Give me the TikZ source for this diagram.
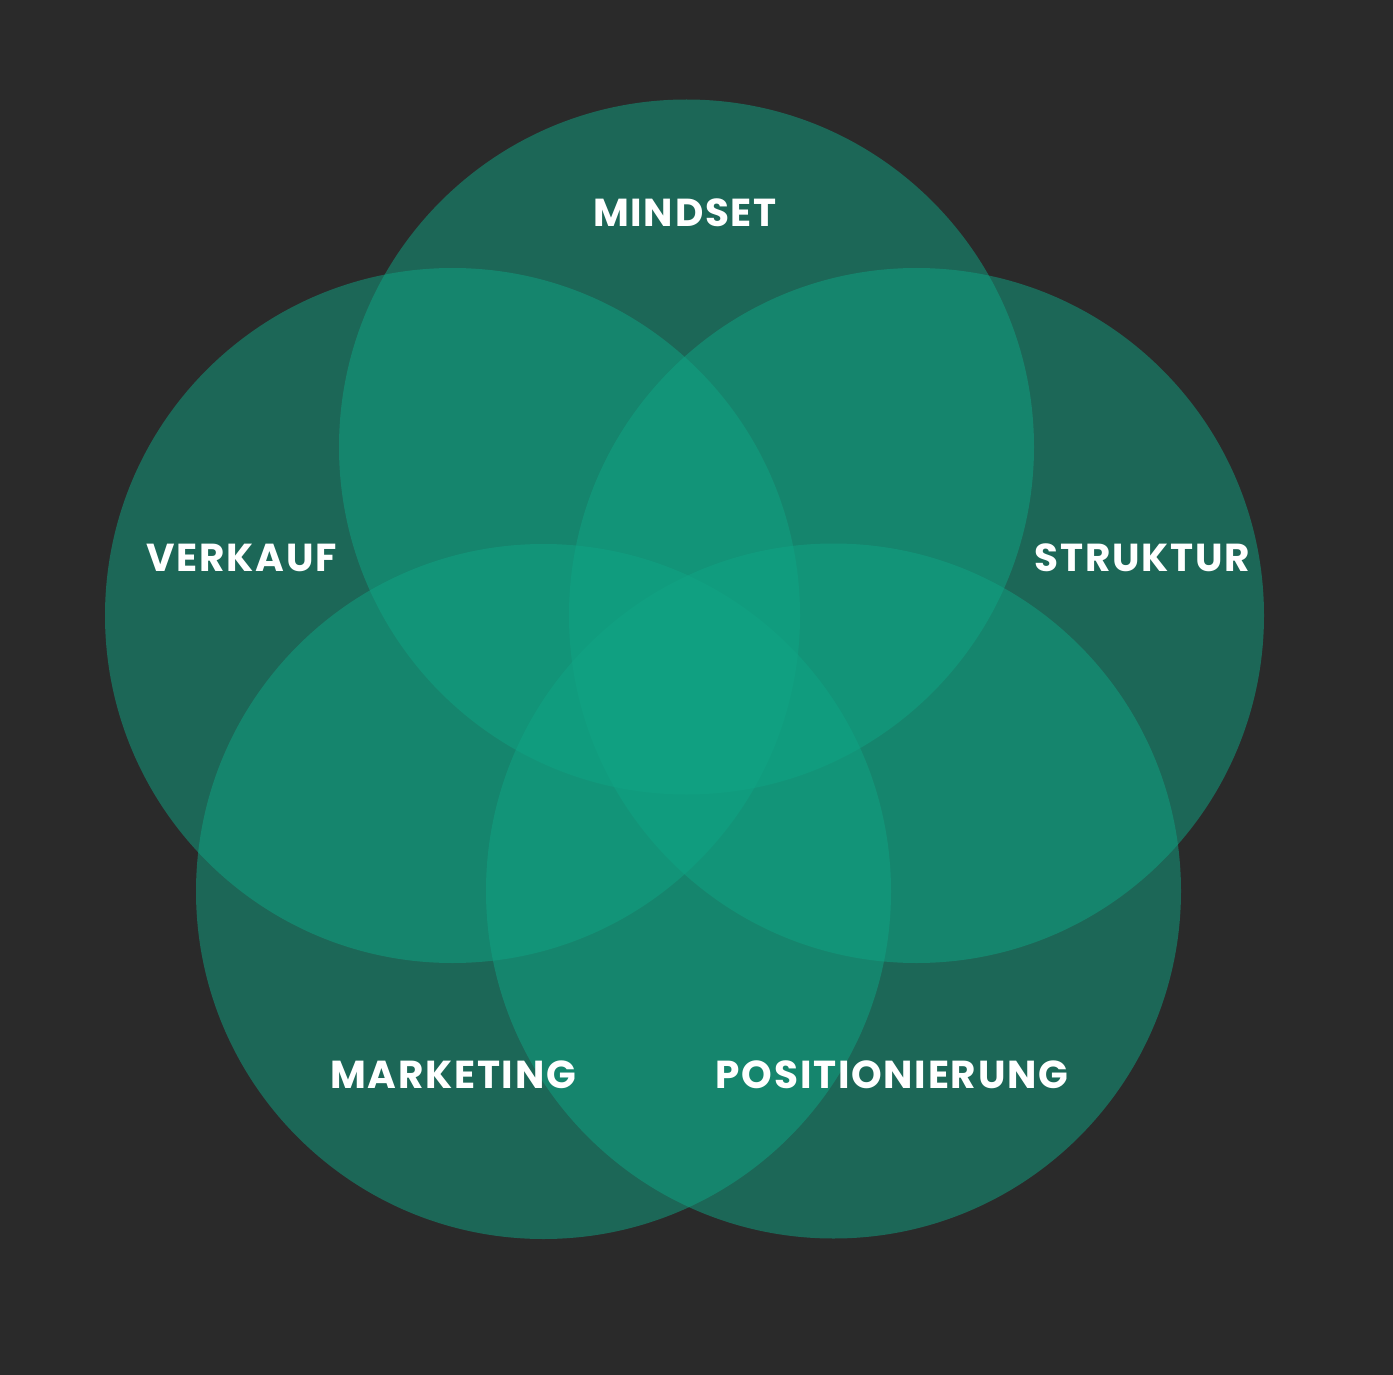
\documentclass[tikz,border=0pt]{standalone}
\usepackage{fontspec}
\setmainfont{Poppins}
\definecolor{bg}{HTML}{2A2A2A}
\definecolor{teal}{HTML}{10A484}
\begin{document}
\begin{tikzpicture}[x=1pt,y=-1pt,
  petal/.style={fill=teal,fill opacity=0.5,draw=none},
  lbl/.style={text=white,font=\fontsize{39}{40}\selectfont\bfseries\addfontfeatures{LetterSpace=4.5},inner sep=0pt,anchor=center}]
\fill[bg] (0,0) rectangle (1393,1375);
\useasboundingbox (0,0) rectangle (1393,1375);
\def\R{347.5}
\path[petal] (686.5,447) circle[radius=\R];
\path[petal] (452.5,615.5) circle[radius=\R];
\path[petal] (916.5,615.5) circle[radius=\R];
\path[petal] (543.5,891.5) circle[radius=\R];
\path[petal] (833.5,891) circle[radius=\R];
\node[lbl] (mindset) at (685,212.5) {MINDSET};
\node[lbl] (verkauf) at (241.5,558) {VERKAUF};
\node[lbl] (struktur) at (1142.5,558) {STRUKTUR};
\node[lbl] (marketing) at (453,1075) {MARKETING};
\node[lbl] (position) at (892,1075) {POSITIONIERUNG};
\end{tikzpicture}
\end{document}
